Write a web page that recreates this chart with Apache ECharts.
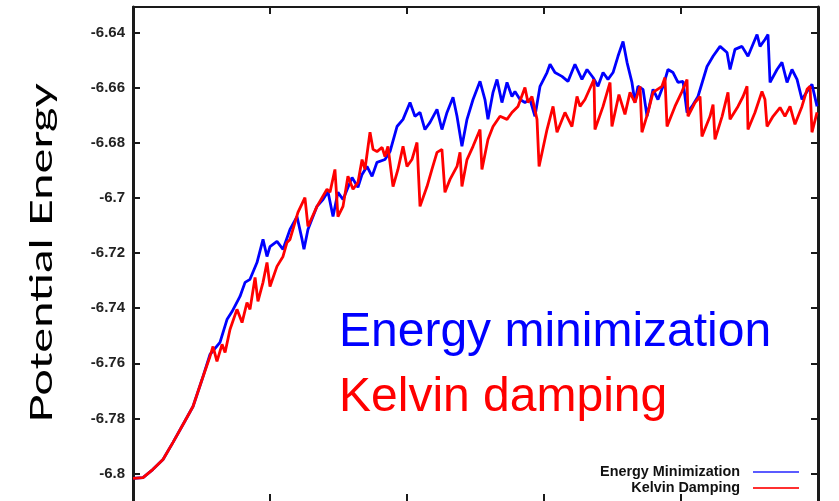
<!DOCTYPE html>
<html>
<head>
<meta charset="utf-8">
<script src="https://cdn.jsdelivr.net/npm/echarts@6/dist/echarts.min.js"></script>
<style>
html,body{margin:0;padding:0;background:#fff;}
#chart{width:839px;height:501px;}
</style>
</head>
<body>
<div id="chart"></div>
<script>
// ---- data (x: time, arbitrary units; y: potential energy) ----
const seriesNames = ['Energy Minimization', 'Kelvin Damping'];
const yTicks = [-6.8, -6.78, -6.76, -6.74, -6.72, -6.7, -6.68, -6.66, -6.64];

const emX = [0,7.3,14.6,21.9,29.2,36.5,43.8,50.4,56.2,63.5,
  68.6,72.3,78.1,81.8,85.4,90.5,94.9,97.8,100,105.1,
  109.5,114.6,119.7,123.4,124.8,127.7,134.3,138.7,142.3,146,
  149.6,153.3,159.9,164.2,167.2,170.8,174.5,178.1,183.9,187.6,
  192.7,197.1,202.2,205.8,209.5,213.1,216.8,221.9,225.5,229.2,
  233.6,236.5,240.1,243.8,248.2,253.3,256.9,259.1,262.8,265.7,
  269.3,273,276.6,278.8,282.5,286.1,289.8,293.4,297.1,302.2,
  304.4,308,313.1,317.5,322.6,327.7,331.4,335.8,339.4,343.1,
  346.7,350.4,354,357.7,360.6,364.2,366.4,368.6,372.3,375.2,
  379.6,383.2,386.9,390.5,394.2,397.8,401.5,404.4,408,412.4,
  419,423.4,428.5,433.6,435.8,439.4,444.5,448.9,455.5,457.7,
  461.3,463.5,465,470.1,473.7,477.4,481,484.7,488.3,492,
  495.6,499.3];
const emY = [-6.8018,-6.8015,-6.7985,-6.7949,-6.7887,-6.7822,-6.7757,-6.7659,-6.7568,-6.7524,
  -6.7441,-6.7412,-6.7357,-6.7306,-6.7295,-6.7234,-6.7150,-6.7212,-6.7176,-6.7157,
  -6.7186,-6.7114,-6.7067,-6.7150,-6.7186,-6.7114,-6.7030,-6.7005,-6.6976,-6.7067,
  -6.6979,-6.7005,-6.6925,-6.6961,-6.6914,-6.6885,-6.6921,-6.6870,-6.6860,-6.6831,
  -6.6740,-6.6714,-6.6653,-6.6703,-6.6689,-6.6751,-6.6725,-6.6678,-6.6751,-6.6689,
  -6.6634,-6.6703,-6.6812,-6.6714,-6.6642,-6.6576,-6.6642,-6.6714,-6.6616,-6.6569,
  -6.6653,-6.6580,-6.6631,-6.6613,-6.6642,-6.6653,-6.6642,-6.6703,-6.6594,-6.6544,
  -6.6514,-6.6544,-6.6558,-6.6576,-6.6514,-6.6569,-6.6533,-6.6562,-6.6594,-6.6544,
  -6.6569,-6.6544,-6.6485,-6.6431,-6.6507,-6.6580,-6.6653,-6.6594,-6.6605,-6.6703,
  -6.6605,-6.6642,-6.6594,-6.6533,-6.6544,-6.6580,-6.6576,-6.6689,-6.6667,-6.6631,
  -6.6522,-6.6485,-6.6449,-6.6471,-6.6533,-6.6460,-6.6449,-6.6485,-6.6406,-6.6449,
  -6.6424,-6.6406,-6.6580,-6.6533,-6.6507,-6.6580,-6.6533,-6.6569,-6.6642,-6.6613,
  -6.6587,-6.6667];

const kdX = [0,7.3,14.6,21.9,29.2,36.5,43.8,50.4,56.2,
  58.4,61.3,65,67.2,70.8,75.9,79.6,83.2,85.4,89.1,91.2,
  94.9,97.8,100,105.1,109.5,112.4,114.6,120.4,125.5,127.7,
  134.3,141.6,143.8,147.4,149.6,153.3,156.9,160.6,164.2,167.2,
  169.3,173,175.2,178.1,181.8,183.9,186.1,189.8,193.4,197.1,
  200,203.6,207.3,209.5,214.6,218.2,221.9,225.5,227.7,231.4,
  236.5,238.7,240.1,243.8,248.2,253.3,254.7,259.1,262.8,267.9,
  273,276.6,281,286.1,288.3,291.2,294.9,296.4,302.2,306.6,
  309.5,315.3,320.4,324.1,326.3,329.9,336.5,337.2,343.1,348.2,
  349.6,354.7,359.1,362.8,366.4,370.1,371.5,375.9,379.6,386.1,
  388.3,389.8,395.6,400.7,404.4,405.1,410.2,413.9,415.3,421.2,
  423.4,424.8,430,434.3,435.8,441.6,445.3,448.2,448.9,454,
  459.1,461.3,462.8,467.2,472.3,475.9,479.6,483.2,488.3,492,
  494.2,495.6,499.3];
const kdY = [-6.8018,-6.8015,-6.7985,-6.7949,-6.7887,-6.7822,-6.7757,-6.7659,-6.7575,
  -6.7539,-6.7593,-6.7531,-6.7561,-6.7477,-6.7404,-6.7452,-6.7379,-6.7404,-6.7288,-6.7375,
  -6.7306,-6.7234,-6.7321,-6.7248,-6.7212,-6.7161,-6.7150,-6.7052,-6.6998,-6.7103,
  -6.7030,-6.6968,-6.6979,-6.6896,-6.7067,-6.7030,-6.6921,-6.6968,-6.6943,-6.6860,
  -6.6896,-6.6761,-6.6823,-6.6831,-6.6816,-6.6849,-6.6812,-6.6958,-6.6896,-6.6812,
  -6.6885,-6.6860,-6.6798,-6.7030,-6.6958,-6.6896,-6.6834,-6.6823,-6.6979,-6.6932,
  -6.6885,-6.6834,-6.6958,-6.6860,-6.6812,-6.6751,-6.6896,-6.6787,-6.6740,-6.6703,
  -6.6714,-6.6689,-6.6667,-6.6598,-6.6653,-6.6631,-6.6714,-6.6885,-6.6751,-6.6667,
  -6.6761,-6.6689,-6.6740,-6.6631,-6.6667,-6.6642,-6.6569,-6.6751,-6.6667,-6.6580,
  -6.6740,-6.6624,-6.6696,-6.6616,-6.6653,-6.6594,-6.6761,-6.6689,-6.6616,-6.6594,
  -6.6562,-6.6740,-6.6667,-6.6613,-6.6569,-6.6703,-6.6653,-6.6631,-6.6776,-6.6703,
  -6.6660,-6.6787,-6.6703,-6.6616,-6.6714,-6.6667,-6.6631,-6.6594,-6.6751,-6.6689,
  -6.6613,-6.6642,-6.6740,-6.6703,-6.6671,-6.6703,-6.6667,-6.6732,-6.6667,-6.6605,
  -6.6594,-6.6761,-6.6689];

const pairs = (xs, ys) => xs.map((x, i) => [x, ys[i]]);

const chart = echarts.init(document.getElementById('chart'), null, {renderer: 'canvas'});

const axisLineStyle = {color: '#1a1a1a', width: 3};
const tickStyle = {color: '#1a1a1a', width: 2};

chart.setOption({
  animation: false,
  backgroundColor: '#fff',
  grid: {left: 133, right: 21, top: 7, bottom: 0, containLabel: false, outerBoundsMode: 'none'},
  xAxis: [
    {type: 'value', position: 'bottom', min: 0, max: 500, interval: 100,
     axisLine: {show: false}, axisLabel: {show: false}, splitLine: {show: false},
     axisTick: {show: true, inside: true, length: 7, lineStyle: tickStyle}},
    {type: 'value', position: 'top', min: 0, max: 500, interval: 100,
     axisLine: {show: true, onZero: false, lineStyle: {color: '#1a1a1a', width: 2}},
     axisLabel: {show: false}, splitLine: {show: false},
     axisTick: {show: true, inside: true, length: 7, lineStyle: tickStyle}}
  ],
  yAxis: [
    {type: 'value', position: 'left', min: -6.81, max: -6.6306,
     axisLine: {show: true, onZero: false, lineStyle: axisLineStyle},
     splitLine: {show: false},
     axisTick: {show: true, inside: true, length: 7, lineStyle: tickStyle, customValues: yTicks},
     axisLabel: {show: true, customValues: yTicks, margin: 8, color: '#222',
                 fontFamily: 'Liberation Sans', fontWeight: 'bold', fontSize: 15}},
    {type: 'value', position: 'right', min: -6.81, max: -6.6306,
     axisLine: {show: true, onZero: false, lineStyle: axisLineStyle},
     splitLine: {show: false},
     axisTick: {show: true, inside: true, length: 7, lineStyle: tickStyle, customValues: yTicks},
     axisLabel: {show: false}}
  ],
  legend: {
    orient: 'vertical', right: 40, top: 465, align: 'right',
    itemWidth: 46, itemHeight: 2, itemGap: 2, padding: 0,
    textStyle: {fontFamily: 'Liberation Sans', fontWeight: 'bold', fontSize: 14.4, color: '#111', padding: [0, 8, 0, 0]},
    data: [
      {name: seriesNames[0], icon: 'rect', itemStyle: {color: '#5b5bff'}},
      {name: seriesNames[1], icon: 'rect', itemStyle: {color: '#ff3030'}}
    ]
  },
  series: [
    {name: seriesNames[0], type: 'line', xAxisIndex: 0, yAxisIndex: 0,
     data: pairs(emX, emY), showSymbol: false, symbol: 'none',
     lineStyle: {color: '#0000ff', width: 2.8}, itemStyle: {color: '#0000ff'}},
    {name: seriesNames[1], type: 'line', xAxisIndex: 0, yAxisIndex: 0,
     data: pairs(kdX, kdY), showSymbol: false, symbol: 'none',
     lineStyle: {color: '#ff0000', width: 2.8}, itemStyle: {color: '#ff0000'}}
  ],
  graphic: [
    {type: 'text', x: 42, y: 253, rotation: Math.PI / 2, scaleX: 1.52,
     style: {text: 'Potential Energy', fontFamily: 'Lato', fontSize: 31, fill: '#000',
             align: 'center', verticalAlign: 'middle', textAlign: 'center', textVerticalAlign: 'middle'}},
    {type: 'text', x: 339, y: 333,
     style: {text: 'Energy minimization', fontFamily: 'Liberation Sans', fontSize: 48, fill: '#0000ff',
             align: 'left', verticalAlign: 'middle', textAlign: 'left', textVerticalAlign: 'middle'}},
    {type: 'text', x: 339, y: 398,
     style: {text: 'Kelvin damping', fontFamily: 'Liberation Sans', fontSize: 48, fill: '#ff0000',
             align: 'left', verticalAlign: 'middle', textAlign: 'left', textVerticalAlign: 'middle'}}
  ]
});
</script>
</body>
</html>
